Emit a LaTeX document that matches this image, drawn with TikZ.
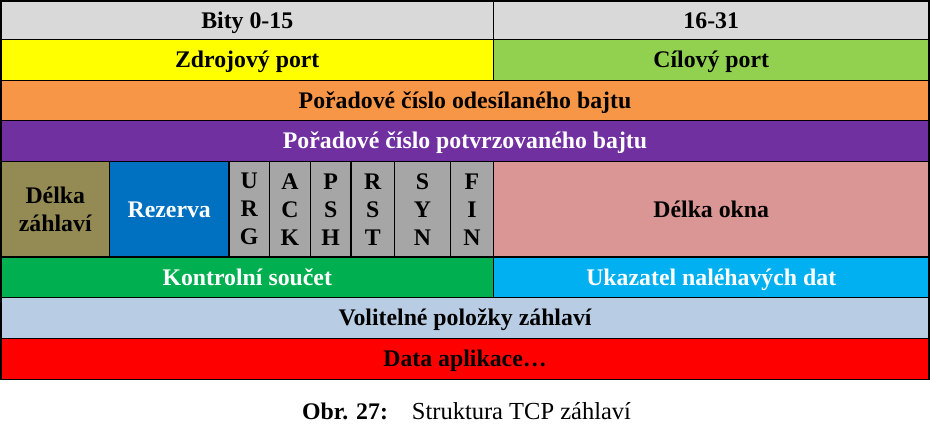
\documentclass[tikz,border=0pt]{standalone}
\usepackage{fontspec}
\setmainfont{Liberation Serif}
\definecolor{TcpHdr}{RGB}{217,217,217}
\definecolor{TcpZdroj}{RGB}{255,255,0}
\definecolor{TcpCil}{RGB}{146,208,80}
\definecolor{TcpOdes}{RGB}{247,150,70}
\definecolor{TcpPotv}{RGB}{112,48,160}
\definecolor{TcpDelka}{RGB}{148,138,84}
\definecolor{TcpRez}{RGB}{0,112,192}
\definecolor{TcpFlag}{RGB}{166,166,166}
\definecolor{TcpOkno}{RGB}{218,150,148}
\definecolor{TcpKontr}{RGB}{0,176,80}
\definecolor{TcpUkaz}{RGB}{0,176,240}
\definecolor{TcpVolit}{RGB}{184,204,228}
\definecolor{TcpData}{RGB}{255,0,0}

\begin{document}
\begin{tikzpicture}[x=1pt,y=-1pt,every node/.style={font=\bfseries\fontsize{23.8}{28}\selectfont},
  cell/.style={draw,line width=1.3pt,inner sep=0pt,align=center,text height=16.5pt,text depth=0.9pt},
  stack/.style={text height=,text depth=}]
\useasboundingbox(0,0)rectangle(930,425);
% hlavicka
\node[cell,fill=TcpHdr,minimum width=492.5,minimum height=38.5](bityA)at(247.25,20.25){Bity 0-15};
\node[cell,fill=TcpHdr,minimum width=435.5,minimum height=38.5](bityB)at(711.25,20.25){16-31};
% porty
\node[cell,fill=TcpZdroj,minimum width=492.5,minimum height=41](zdroj)at(247.25,60){Zdrojový port};
\node[cell,fill=TcpCil,minimum width=435.5,minimum height=41](cil)at(711.25,60){Cílový port};
% cisla
\node[cell,fill=TcpOdes,minimum width=928,minimum height=40](odes)at(465,100.5){Pořadové číslo odesílaného bajtu};
\node[cell,fill=TcpPotv,text=white,minimum width=928,minimum height=41](potv)at(465,141){Pořadové číslo potvrzovaného bajtu};
% delka, rezerva, priznaky, okno
\node[cell,stack,fill=TcpDelka,minimum width=108.5,minimum height=95.5](delka)at(55.25,209.25){Délka\\záhlaví};
\node[cell,fill=TcpRez,text=white,minimum width=119.5,minimum height=95.5](rez)at(169.25,209.25){Rezerva};
\node[cell,stack,fill=TcpFlag,minimum width=40.5,minimum height=95.5](urg)at(249.25,209.25){U\\R\\G};
\node[cell,stack,fill=TcpFlag,minimum width=41,minimum height=95.5](ack)at(290,209.25){A\\C\\K};
\node[cell,stack,fill=TcpFlag,minimum width=40.5,minimum height=95.5](psh)at(330.75,209.25){P\\S\\H};
\node[cell,stack,fill=TcpFlag,minimum width=43.5,minimum height=95.5](rst)at(372.75,209.25){R\\S\\T};
\node[cell,stack,fill=TcpFlag,minimum width=56,minimum height=95.5](syn)at(422.5,209.25){S\\Y\\N};
\node[cell,stack,fill=TcpFlag,minimum width=43,minimum height=95.5](fin)at(472,209.25){F\\I\\N};
\node[cell,fill=TcpOkno,minimum width=435.5,minimum height=95.5](okno)at(711.25,209.25){Délka okna};
% soucet, ukazatel
\node[cell,fill=TcpKontr,text=white,minimum width=492.5,minimum height=40.5](kontr)at(247.25,277.25){Kontrolní součet};
\node[cell,fill=TcpUkaz,text=white,minimum width=435.5,minimum height=40.5](ukaz)at(711.25,277.25){Ukazatel naléhavých dat};
% volby, data
\node[cell,fill=TcpVolit,minimum width=928,minimum height=41](volit)at(465,318){Volitelné položky záhlaví};
\node[cell,fill=TcpData,minimum width=928,minimum height=41](data)at(465,359){Data aplikace…};
% popisek
\node[anchor=base west,inner sep=0pt](popis)at(302,419.5){Obr. 27:\hspace{24pt}\mdseries\fontsize{24.5}{28}\selectfont Struktura TCP záhlaví};
\end{tikzpicture}
\end{document}
